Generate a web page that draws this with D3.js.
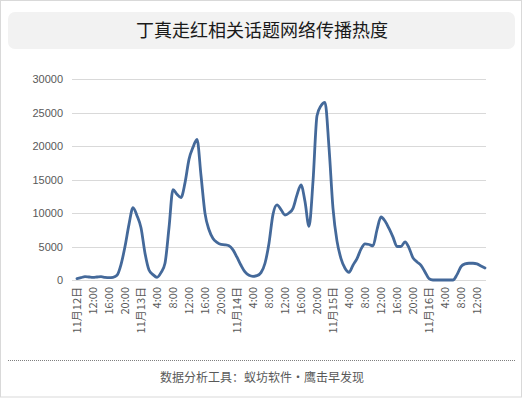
<!DOCTYPE html>
<html><head><meta charset="utf-8">
<script src="https://cdn.jsdelivr.net/npm/d3@7"></script>
<style>html,body{margin:0;padding:0;background:#fff;}svg{display:block;}</style>
</head><body>
<svg id="c" width="527" height="398"></svg>
<script>
const title = "丁真走红相关话题网络传播热度";
const footer = "数据分析工具：蚁坊软件·鹰击早发现";
const yTicks = [0, 5000, 10000, 15000, 20000, 25000, 30000];
// hourly values starting 11月12日 8:00
const values = [
  200, 350, 500, 450, 400, 450, 500, 400, 350, 400,
  700, 2300, 5000, 8300, 10800, 9600, 7800, 4000, 1500, 800,
  400, 1100, 2500, 7800, 13500, 12800, 12300, 14500, 18000, 19800,
  21000, 15600, 9950, 7500, 6200, 5600, 5300, 5250, 5100, 4500,
  3400, 2200, 1200, 700, 550, 650, 1100, 2500, 5500, 9800,
  11200, 10500, 9700, 10000, 10700, 12700, 14200, 11700, 8000, 14700,
  24500, 26000, 26500, 19800, 10700, 5800, 3200, 1750, 1150, 2200,
  3200, 4600, 5400, 5300, 5100, 7500, 9400, 8800, 7700, 6400,
  5000, 5000, 5700, 4800, 3300, 2700, 2200, 1200, 200, 0,
  0, 0, 0, 0, 0, 800, 2000, 2400, 2500, 2500,
  2400, 2100, 1800
];
const xLabels = ["11月12日","12:00","16:00","20:00","11月13日","4:00","8:00","12:00","16:00","20:00",
  "11月14日","4:00","8:00","12:00","16:00","20:00","11月15日","4:00","8:00","12:00","16:00","20:00",
  "11月16日","4:00","8:00","12:00"];

const svg = d3.select("#c");
const font = "'Microsoft YaHei','Noto Sans CJK SC',sans-serif";

svg.append("rect").attr("x",0.5).attr("y",0.5).attr("width",521).attr("height",396.5)
  .attr("fill","#fff").attr("stroke","#d9d9d9");
svg.append("rect").attr("x",8).attr("y",12).attr("width",507).attr("height",37).attr("rx",7)
  .attr("fill","#f2f2f2");
svg.append("text").attr("x",262).attr("y",37).attr("text-anchor","middle")
  .attr("font-family",font).attr("font-size",18).attr("fill","#1a1a1a").text(title);

const x = d3.scaleLinear().domain([0, 102]).range([77, 485]);
const y = d3.scaleLinear().domain([0, 30000]).range([280, 79]);

const grid = svg.append("g");
yTicks.forEach(t => {
  grid.append("line").attr("x1",72).attr("x2",486).attr("y1",Math.round(y(t))+0.5).attr("y2",Math.round(y(t))+0.5)
    .attr("stroke","#d9d9d9").attr("stroke-width",1);
});
const yAxis = d3.axisLeft(y).tickValues(yTicks).tickSize(0).tickPadding(0).tickFormat(d3.format("d"));
const ya = svg.append("g").attr("transform","translate(63,0)").call(yAxis);
ya.select(".domain").remove();
ya.selectAll("text").attr("font-family","Arial,'Liberation Sans',sans-serif").attr("font-size",11).attr("fill","#595959");

const xl = d3.scalePoint().domain(d3.range(xLabels.length)).range([x(0), x(100)]);
const xAxis = d3.axisBottom(xl).tickSize(0).tickFormat(i => xLabels[i]);
const xa = svg.append("g").attr("transform","translate(0,287)").call(xAxis);
xa.select(".domain").remove();
xa.selectAll("text").attr("font-family",font).attr("font-size",11).attr("fill","#595959")
  .attr("text-anchor","end").attr("transform","rotate(-90)").attr("dy","0.35em").attr("x",0).attr("y",0);

const line = d3.line().x((d,i)=>x(i)).y(d=>y(d)).curve(d3.curveMonotoneX);
svg.append("path").datum(values).attr("d",line).attr("fill","none")
  .attr("stroke","#44699a").attr("stroke-width",2.8).attr("stroke-linejoin","round").attr("stroke-linecap","round");

svg.append("line").attr("x1",8).attr("x2",515).attr("y1",360.5).attr("y2",360.5)
  .attr("stroke","#7f7f7f").attr("stroke-width",1).attr("stroke-dasharray","1,1");
svg.append("text").attr("x",262).attr("y",382).attr("text-anchor","middle")
  .attr("font-family",font).attr("font-size",12).attr("fill","#595959").text(footer);
</script>
</body></html>
